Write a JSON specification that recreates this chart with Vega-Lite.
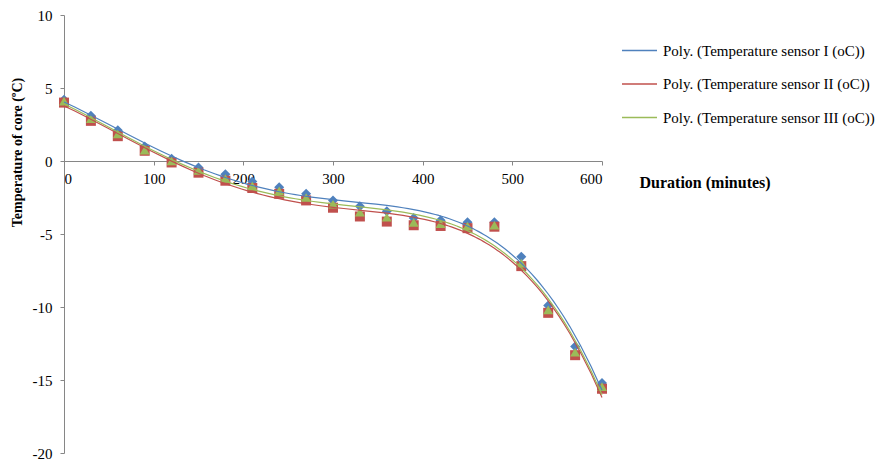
{
  "$schema": "https://vega.github.io/schema/vega-lite/v6.json",
  "autosize": "none",
  "width": 538,
  "height": 438,
  "padding": {"left": 64, "top": 15, "right": 286, "bottom": 11},
  "background": "white",
  "config": {
    "view": {"stroke": null},
    "font": "Liberation Serif",
    "axis": {"labelFont": "Liberation Serif", "titleFont": "Liberation Serif", "domainColor": "#868686", "tickColor": "#868686", "labelColor": "#000000", "titleColor": "#000000", "grid": false, "labelFontSize": 15, "titleFontSize": 15, "tickSize": 4}
  },
  "data": {
    "values": [
      {"minutes": 0, "temp": 4.2, "sensor": "Temperature sensor I (oC)"},
      {"minutes": 30, "temp": 3.1, "sensor": "Temperature sensor I (oC)"},
      {"minutes": 60, "temp": 2.1, "sensor": "Temperature sensor I (oC)"},
      {"minutes": 90, "temp": 1.0, "sensor": "Temperature sensor I (oC)"},
      {"minutes": 120, "temp": 0.15, "sensor": "Temperature sensor I (oC)"},
      {"minutes": 150, "temp": -0.45, "sensor": "Temperature sensor I (oC)"},
      {"minutes": 180, "temp": -0.9, "sensor": "Temperature sensor I (oC)"},
      {"minutes": 210, "temp": -1.4, "sensor": "Temperature sensor I (oC)"},
      {"minutes": 240, "temp": -1.8, "sensor": "Temperature sensor I (oC)"},
      {"minutes": 270, "temp": -2.25, "sensor": "Temperature sensor I (oC)"},
      {"minutes": 300, "temp": -2.7, "sensor": "Temperature sensor I (oC)"},
      {"minutes": 330, "temp": -3.1, "sensor": "Temperature sensor I (oC)"},
      {"minutes": 360, "temp": -3.45, "sensor": "Temperature sensor I (oC)"},
      {"minutes": 390, "temp": -3.9, "sensor": "Temperature sensor I (oC)"},
      {"minutes": 420, "temp": -4.05, "sensor": "Temperature sensor I (oC)"},
      {"minutes": 450, "temp": -4.2, "sensor": "Temperature sensor I (oC)"},
      {"minutes": 480, "temp": -4.2, "sensor": "Temperature sensor I (oC)"},
      {"minutes": 510, "temp": -6.55, "sensor": "Temperature sensor I (oC)"},
      {"minutes": 540, "temp": -9.9, "sensor": "Temperature sensor I (oC)"},
      {"minutes": 570, "temp": -12.7, "sensor": "Temperature sensor I (oC)"},
      {"minutes": 600, "temp": -15.2, "sensor": "Temperature sensor I (oC)"},
      {"minutes": 0, "temp": 4.0, "sensor": "Temperature sensor II (oC)"},
      {"minutes": 30, "temp": 2.75, "sensor": "Temperature sensor II (oC)"},
      {"minutes": 60, "temp": 1.7, "sensor": "Temperature sensor II (oC)"},
      {"minutes": 90, "temp": 0.7, "sensor": "Temperature sensor II (oC)"},
      {"minutes": 120, "temp": -0.1, "sensor": "Temperature sensor II (oC)"},
      {"minutes": 150, "temp": -0.8, "sensor": "Temperature sensor II (oC)"},
      {"minutes": 180, "temp": -1.35, "sensor": "Temperature sensor II (oC)"},
      {"minutes": 210, "temp": -1.85, "sensor": "Temperature sensor II (oC)"},
      {"minutes": 240, "temp": -2.25, "sensor": "Temperature sensor II (oC)"},
      {"minutes": 270, "temp": -2.7, "sensor": "Temperature sensor II (oC)"},
      {"minutes": 300, "temp": -3.2, "sensor": "Temperature sensor II (oC)"},
      {"minutes": 330, "temp": -3.8, "sensor": "Temperature sensor II (oC)"},
      {"minutes": 360, "temp": -4.15, "sensor": "Temperature sensor II (oC)"},
      {"minutes": 390, "temp": -4.4, "sensor": "Temperature sensor II (oC)"},
      {"minutes": 420, "temp": -4.45, "sensor": "Temperature sensor II (oC)"},
      {"minutes": 450, "temp": -4.6, "sensor": "Temperature sensor II (oC)"},
      {"minutes": 480, "temp": -4.5, "sensor": "Temperature sensor II (oC)"},
      {"minutes": 510, "temp": -7.2, "sensor": "Temperature sensor II (oC)"},
      {"minutes": 540, "temp": -10.4, "sensor": "Temperature sensor II (oC)"},
      {"minutes": 570, "temp": -13.3, "sensor": "Temperature sensor II (oC)"},
      {"minutes": 600, "temp": -15.6, "sensor": "Temperature sensor II (oC)"},
      {"minutes": 0, "temp": 4.1, "sensor": "Temperature sensor III (oC)"},
      {"minutes": 30, "temp": 2.9, "sensor": "Temperature sensor III (oC)"},
      {"minutes": 60, "temp": 1.85, "sensor": "Temperature sensor III (oC)"},
      {"minutes": 90, "temp": 0.75, "sensor": "Temperature sensor III (oC)"},
      {"minutes": 120, "temp": 0.0, "sensor": "Temperature sensor III (oC)"},
      {"minutes": 150, "temp": -0.65, "sensor": "Temperature sensor III (oC)"},
      {"minutes": 180, "temp": -1.2, "sensor": "Temperature sensor III (oC)"},
      {"minutes": 210, "temp": -1.7, "sensor": "Temperature sensor III (oC)"},
      {"minutes": 240, "temp": -2.05, "sensor": "Temperature sensor III (oC)"},
      {"minutes": 270, "temp": -2.5, "sensor": "Temperature sensor III (oC)"},
      {"minutes": 300, "temp": -2.95, "sensor": "Temperature sensor III (oC)"},
      {"minutes": 330, "temp": -3.5, "sensor": "Temperature sensor III (oC)"},
      {"minutes": 360, "temp": -3.85, "sensor": "Temperature sensor III (oC)"},
      {"minutes": 390, "temp": -4.2, "sensor": "Temperature sensor III (oC)"},
      {"minutes": 420, "temp": -4.3, "sensor": "Temperature sensor III (oC)"},
      {"minutes": 450, "temp": -4.45, "sensor": "Temperature sensor III (oC)"},
      {"minutes": 480, "temp": -4.4, "sensor": "Temperature sensor III (oC)"},
      {"minutes": 510, "temp": -7.0, "sensor": "Temperature sensor III (oC)"},
      {"minutes": 540, "temp": -10.2, "sensor": "Temperature sensor III (oC)"},
      {"minutes": 570, "temp": -13.1, "sensor": "Temperature sensor III (oC)"},
      {"minutes": 600, "temp": -15.45, "sensor": "Temperature sensor III (oC)"}
    ]
  },
  "layer": [
    {
      "mark": {"type": "point", "filled": true, "opacity": 1, "size": 100},
      "encoding": {
        "x": {"field": "minutes", "type": "quantitative", "scale": {"domain": [0, 600], "nice": false}, "axis": {"values": [0, 100, 200, 300, 400, 500, 600], "offset": -292, "title": "Duration (minutes)", "titleFontWeight": "bold", "titleFontSize": 16, "titleX": 575, "titleY": 21, "titleAlign": "left", "titleBaseline": "middle", "labelPadding": 6, "labelExpr": "toString(datum.value)"}},
        "y": {"field": "temp", "type": "quantitative", "scale": {"domain": [-20, 10], "nice": false}, "axis": {"values": [-20, -15, -10, -5, 0, 5, 10], "title": "Temperature of core (ºC)", "titleFontWeight": "bold", "titleFontSize": 14, "labelPadding": 8, "labelExpr": "toString(datum.value)", "titleX": -47, "titleY": 137, "titleAngle": -90, "titleAlign": "center", "titleBaseline": "middle"}},
        "color": {"field": "sensor", "type": "nominal", "scale": {"range": ["#4F81BD", "#C0504D", "#9BBB59"]}, "legend": null},
        "shape": {"field": "sensor", "type": "nominal", "scale": {"range": ["diamond", "square", "triangle-up"]}, "legend": null}
      }
    },
    {
      "transform": [
        {"regression": "temp", "on": "minutes", "method": "poly", "order": 4, "groupby": ["sensor"], "extent": [0, 600]}
      ],
      "mark": {"type": "line", "strokeWidth": 1.2},
      "encoding": {
        "x": {"field": "minutes", "type": "quantitative"},
        "y": {"field": "temp", "type": "quantitative"},
        "color": {"field": "sensor", "type": "nominal", "scale": {"range": ["#4F81BD", "#C0504D", "#9BBB59"]}, "legend": {"title": null, "orient": "none", "legendX": 557, "legendY": 17, "symbolType": "stroke", "symbolSize": 1225, "symbolStrokeWidth": 1.5, "labelFont": "Liberation Serif", "labelFontSize": 15, "labelLimit": 0, "labelColor": "#000000", "rowPadding": 6.5, "labelOffset": 5, "labelExpr": "'Poly. (' + datum.label + ')'"}}
      }
    }
  ],
  "resolve": {"scale": {"color": "independent", "shape": "independent"}, "legend": {"color": "independent"}}
}
